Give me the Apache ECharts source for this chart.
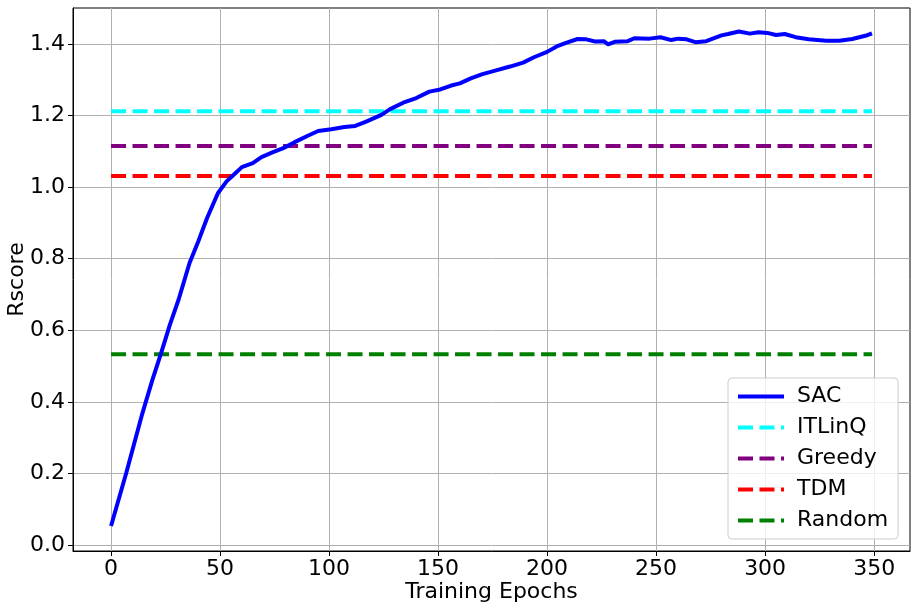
<!DOCTYPE html>
<html>
<head>
<meta charset="utf-8">
<script src="https://cdn.jsdelivr.net/npm/echarts@6/dist/echarts.min.js"></script>
<style>
  html, body { margin: 0; padding: 0; background: #fff; }
  #chart { width: 917px; height: 609px; }
</style>
</head>
<body>
<div id="chart"></div>
<script>
// SAC training curve as [epoch, Rscore]
const sacEpochs = [0, 7, 14, 19, 23, 27, 31, 36, 40, 44, 49, 53, 57, 60, 65, 69, 74, 79, 84, 90, 95, 101, 107,
  112, 117, 124, 128, 134, 140, 146, 151, 156, 160, 165, 170, 177, 183, 189, 194, 200, 205, 209, 214,
  218, 222, 226, 228, 231, 237, 240, 247, 252, 257, 260, 264, 268, 273, 276, 280, 283, 288, 293, 297,
  301, 305, 309, 314, 320, 328, 334, 340, 346, 349]
const sacScores = [0.053, 0.202, 0.36, 0.462, 0.537, 0.616, 0.686, 0.788, 0.848, 0.913, 0.983, 1.016, 1.039, 1.056, 1.067, 1.084, 1.097, 1.109, 1.125, 1.143, 1.157, 1.162, 1.168,
  1.171, 1.183, 1.202, 1.218, 1.236, 1.249, 1.267, 1.273, 1.284, 1.29, 1.304, 1.315, 1.327, 1.337, 1.348, 1.363, 1.378, 1.395, 1.404, 1.414,
  1.413, 1.407, 1.408, 1.399, 1.406, 1.408, 1.416, 1.415, 1.419, 1.411, 1.415, 1.413, 1.405, 1.408, 1.415, 1.424, 1.428, 1.435, 1.429, 1.433,
  1.431, 1.425, 1.428, 1.419, 1.413, 1.409, 1.409, 1.414, 1.423, 1.43]

// 基线方法（水平线）
const baselineNames = ['ITLinQ', 'Greedy', 'TDM', 'Random']
const baselineValues = [1.212, 1.115, 1.031, 0.533]
const baselineColors = ['#00ffff', '#800080', '#ff0000', '#008000']
const baselineSpan = [0, 349]

const xTicks = [0, 50, 100, 150, 200, 250, 300, 350]
const yTicks = [0, 0.2, 0.4, 0.6, 0.8, 1.0, 1.2, 1.4]

const font = 'DejaVu Sans'
const chart = echarts.init(document.getElementById('chart'))

const series = [
  {
    name: 'SAC',
    type: 'line',
    data: sacEpochs.map((e, i) => [e, sacScores[i]]),
    symbol: 'none',
    lineStyle: { color: '#0000ff', width: 4 },
    itemStyle: { color: '#0000ff' },
    z: 5,
  },
]
baselineNames.forEach((name, i) => {
  series.push({
    name: name,
    type: 'line',
    data: baselineSpan.map(e => [e, baselineValues[i]]),
    symbol: 'none',
    lineStyle: { color: baselineColors[i], width: 4, type: [15, 6.5] },
    itemStyle: { color: baselineColors[i] },
  })
})

chart.setOption({
  animation: false,
  grid: {
    left: 73, right: 7, top: 8, bottom: 58,
    outerBoundsMode: 'none',
    containLabel: false,
    show: true, borderColor: '#000', borderWidth: 1,
  },
  xAxis: {
    type: 'value',
    min: -17.45,
    max: 366.45,
    name: 'Training Epochs',
    nameLocation: 'middle',
    nameGap: 30,
    nameMoveOverlap: false,
    nameTextStyle: { fontFamily: font, fontSize: 22, color: '#000' },
    axisLine: { show: true, onZero: false, lineStyle: { color: '#000' } },
    axisTick: { show: true, length: 5, customValues: xTicks, lineStyle: { color: '#000' } },
    axisLabel: { customValues: xTicks, margin: 7, fontFamily: font, fontSize: 22, color: '#000' },
    splitLine: { show: true, lineStyle: { color: '#b0b0b0', width: 1 } },
  },
  yAxis: {
    type: 'value',
    min: -0.0168,
    max: 1.5006,
    name: 'Rscore',
    nameLocation: 'middle',
    nameGap: 45,
    nameMoveOverlap: false,
    nameTextStyle: { fontFamily: font, fontSize: 22, color: '#000' },
    axisLine: { show: true, onZero: false, lineStyle: { color: '#000' } },
    axisTick: { show: true, length: 5, customValues: yTicks, lineStyle: { color: '#000' } },
    axisLabel: {
      customValues: yTicks, margin: 8, fontFamily: font, fontSize: 22, color: '#000',
      formatter: v => v.toFixed(1),
    },
    splitLine: { show: true, lineStyle: { color: '#b0b0b0', width: 1 } },
  },
  legend: {
    orient: 'vertical',
    left: 728,
    top: 378,
    padding: [6, 10, 6, 8],
    itemWidth: 46,
    itemHeight: 14,
    itemGap: 6,
    itemStyle: { opacity: 0 },
    lineStyle: { width: 4 },
    backgroundColor: 'rgba(255,255,255,0.8)',
    borderColor: '#cccccc',
    borderWidth: 1,
    borderRadius: 4,
    textStyle: { fontFamily: font, fontSize: 22, color: '#000', lineHeight: 25, padding: [0, 0, 0, 8] },
    data: ['SAC'].concat(baselineNames),
  },
  series: series,
})
</script>
</body>
</html>
